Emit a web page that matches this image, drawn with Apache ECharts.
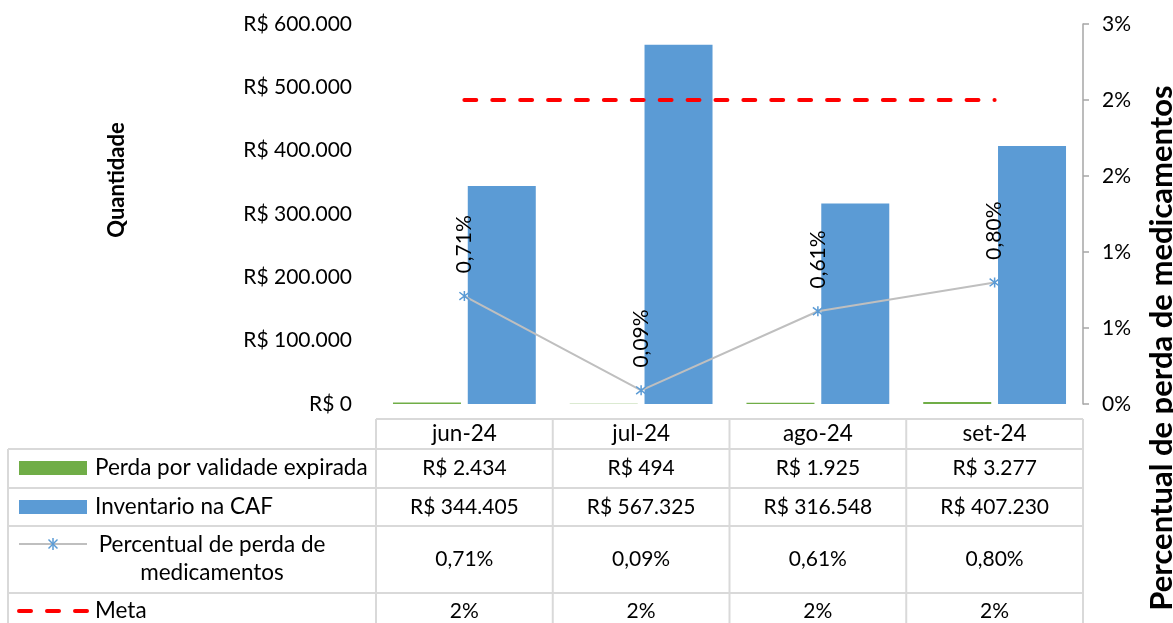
<!DOCTYPE html>
<html><head><meta charset="utf-8">
<script src="https://cdn.jsdelivr.net/npm/echarts@6/dist/echarts.min.js"></script>
<style>html,body{margin:0;padding:0;background:#fff}#c{width:1173px;height:623px}</style>
</head><body><div id="c"></div>
<script>
// ---- data ----
const categories = ['jun-24', 'jul-24', 'ago-24', 'set-24'];
const perda = [2434, 494, 1925, 3277];
const inventario = [344405, 567325, 316548, 407230];
const percentual = [0.71, 0.09, 0.61, 0.80];
const meta = [2, 2, 2, 2];
const seriesNames = ['Perda por validade expirada', 'Inventario na CAF', 'Percentual de perda de\nmedicamentos', 'Meta'];
const leftAxisTitle = 'Quantidade';
const rightAxisTitle = 'Percentual de perda de medicamentos';

// ---- style ----
const FONT = 'Lato';
const FS = 21;     // numbers
const FS_T = 22.5; // words in the table
const C_GREEN = '#70AD47', C_BLUE = '#5B9BD5', C_GRAY = '#BFBFBF', C_RED = '#FF0000', C_GRID = '#D9D9D9';
function brl(v) { return 'R$ ' + String(Math.round(v)).replace(/\B(?=(\d{3})+(?!\d))/g, '.'); }
function pct2(v) { return v.toFixed(2).replace('.', ',') + '%'; }
function pct0(v) { return Math.round(v) + '%'; }
const STAR = 'path://M0,0L10,10M10,0L0,10M5,-1.5L5,11.5';

const chart = echarts.init(document.getElementById('c'), null, { renderer: 'canvas' });
const txt = { fontFamily: FONT, fontSize: FS, color: '#000' };

chart.setOption({
  animation: false,
  backgroundColor: '#fff',
  grid: { left: 376, right: 90, top: 24, bottom: 219 },
  xAxis: { type: 'category', data: categories, axisLine: { show: false }, axisTick: { show: false }, axisLabel: { show: false } },
  yAxis: [
    { type: 'value', min: 0, max: 600000, interval: 100000, splitLine: { show: false }, axisLine: { show: false }, axisTick: { show: false },
      axisLabel: Object.assign({ formatter: brl, margin: 24 }, txt) },
    { type: 'value', position: 'right', min: 0, max: 2.5, interval: 0.5, splitLine: { show: false },
      axisLine: { show: true, lineStyle: { color: '#A6A6A6', width: 1.5 } },
      axisTick: { show: true, length: 6, lineStyle: { color: '#A6A6A6', width: 1.5 } },
      axisLabel: Object.assign({ formatter: pct0, margin: 19 }, txt) }
  ],
  series: [
    { name: seriesNames[0], type: 'bar', data: perda, yAxisIndex: 0, barWidth: 68, barGap: '10%', itemStyle: { color: C_GREEN } },
    { name: seriesNames[1], type: 'bar', data: inventario, yAxisIndex: 0, barWidth: 68, barGap: '10%', itemStyle: { color: C_BLUE } },
    { name: seriesNames[2], type: 'line', data: percentual, yAxisIndex: 1, symbol: STAR, symbolSize: 10,
      itemStyle: { color: 'rgba(0,0,0,0)', borderColor: C_BLUE, borderWidth: 1.5 },
      lineStyle: { color: C_GRAY, width: 2 },
      label: Object.assign({ show: true, position: 'top', distance: 17, rotate: 90, align: 'left', verticalAlign: 'middle',
        formatter: p => pct2(p.value) }, txt) },
    { name: seriesNames[3], type: 'line', data: meta, yAxisIndex: 1, symbol: 'none', z: 5,
      lineStyle: { color: C_RED, width: 4, type: [11.9, 16], cap: 'round' } }
  ]
});

// ---- data table below the plot, positioned from the category axis ----
const cx = categories.map((c, i) => chart.convertToPixel({ xAxisIndex: 0 }, i));
const band = cx.length > 1 ? cx[1] - cx[0] : 176;
const xL = cx[0] - band / 2, xR = cx[cx.length - 1] + band / 2;
const tableLeft = 8;
const headTop = 419;
const rowEdges = [449, 488, 526, 593, 640];
const rowText = [468, 507, 559, 611];
const rowValues = [perda.map(brl), inventario.map(brl), percentual.map(pct2), meta.map(pct0)];

const g = [];
const lineEl = (x1, y1, x2, y2, stroke, w, extra) => ({ type: 'line', silent: true, shape: { x1, y1, x2, y2 },
  style: Object.assign({ stroke: stroke || C_GRID, lineWidth: w || 2 }, extra || {}) });
const textEl = (x, y, text, align, size, extra) => ({ type: 'text', x, y, silent: true,
  style: Object.assign({ text, font: (size || FS) + 'px ' + FONT, fill: '#000', textAlign: align || 'center', textVerticalAlign: 'middle' }, extra || {}) });

g.push(lineEl(xL, headTop, xR, headTop));
rowEdges.forEach(y => g.push(lineEl(tableLeft, y, xR, y)));
g.push(lineEl(tableLeft, rowEdges[0], tableLeft, 640));
for (let i = 0; i <= categories.length; i++) {
  const x = xL + i * band;
  g.push(lineEl(x, headTop, x, 640));
}
categories.forEach((c, i) => g.push(textEl(cx[i], (headTop + rowEdges[0]) / 2, c, 'center', FS_T)));
rowValues.forEach((vals, r) => vals.forEach((v, i) => g.push(textEl(cx[i], rowText[r], v))));

// legend keys
g.push({ type: 'rect', silent: true, shape: { x: 19, y: rowText[0] - 7, width: 68, height: 14 }, style: { fill: C_GREEN } });
g.push({ type: 'rect', silent: true, shape: { x: 19, y: rowText[1] - 7, width: 68, height: 14 }, style: { fill: C_BLUE } });
const y3 = 544;
g.push(lineEl(19, y3, 87, y3, C_GRAY, 2));
g.push(lineEl(48.5, y3 - 4.5, 57.5, y3 + 4.5, C_BLUE, 1.5));
g.push(lineEl(57.5, y3 - 4.5, 48.5, y3 + 4.5, C_BLUE, 1.5));
g.push(lineEl(53, y3 - 6, 53, y3 + 6, C_BLUE, 1.5));
const y4 = rowText[3];
g.push(lineEl(19, y4, 87, y4, C_RED, 4, { lineDash: [12, 16], lineCap: 'round' }));

// legend texts
g.push(textEl(95, rowText[0], seriesNames[0], 'left', FS_T));
g.push(textEl(95, rowText[1], seriesNames[1], 'left', FS_T));
g.push(textEl(95, rowText[3], seriesNames[3], 'left', FS_T));
g.push(textEl(212, rowText[2], seriesNames[2], 'center', FS_T, { lineHeight: 28 }));

// axis titles
g.push({ type: 'text', x: 117, y: 180, rotation: Math.PI / 2, silent: true,
  style: { text: leftAxisTitle, font: 'bold 22px ' + FONT, fill: '#000', textAlign: 'center', textVerticalAlign: 'middle' } });
g.push({ type: 'text', x: 1162, y: 348, rotation: Math.PI / 2, silent: true,
  style: { text: rightAxisTitle, font: 'bold 31px ' + FONT, fill: '#000', textAlign: 'center', textVerticalAlign: 'middle' } });

chart.setOption({ graphic: { elements: g } });
</script></body></html>
